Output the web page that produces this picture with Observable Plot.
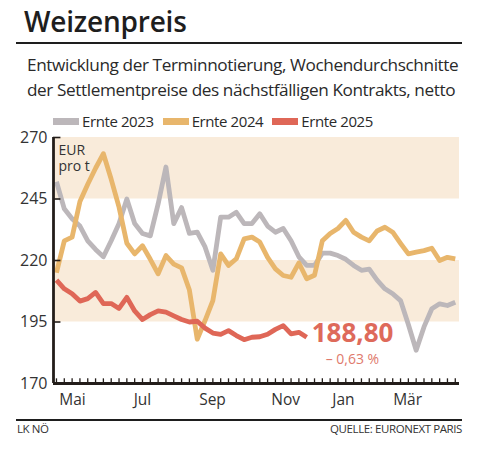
<!DOCTYPE html>
<html>
<head>
<meta charset="utf-8">
<script src="https://cdn.jsdelivr.net/npm/d3@7"></script>
<script src="https://cdn.jsdelivr.net/npm/@observablehq/plot@0.6"></script>
<style>
  html, body { margin: 0; padding: 0; background: #fff; }
  #wrap { position: relative; width: 479px; height: 450px; overflow: hidden; font-family: "Open Sans", sans-serif; color: #1e1e1e; }
  .abs { position: absolute; white-space: nowrap; }
  #title { left: 24px; top: 7px; font-size: 28px; line-height: 1; font-weight: 600; letter-spacing: -0.2px; }
  .rule { position: absolute; left: 16px; width: 446px; height: 2px; background: #1e1e1e; }
  #sub { left: 27px; top: 53px; font-size: 17.2px; line-height: 24.5px; color: #2a2a2a; letter-spacing: -0.4px; }
  #legend { left: 53px; top: 112px; display: flex; align-items: center; font-size: 15px; line-height: 18px; color: #2a2a2a; }
  .item { display: flex; align-items: center; margin-right: 9px; letter-spacing: -0.4px; }
  .sw { width: 26px; height: 7px; margin-right: 3px; }
  #chart { left: 0; top: 130px; }
  .foot { top: 423px; font-size: 11.5px; line-height: 12px; color: #333; letter-spacing: -0.4px; }
</style>
</head>
<body>
<div id="wrap">
  <div id="title" class="abs">Weizenpreis</div>
  <div class="rule" style="top:42px"></div>
  <div id="sub" class="abs"></div>
  <div id="legend" class="abs"></div>
  <div id="chart" class="abs"></div>
  <div class="rule" style="top:419px"></div>
  <div class="abs foot" style="left:17px">LK NÖ</div>
  <div class="abs foot" style="right:17px">QUELLE: EURONEXT PARIS</div>
</div>
<script>
// ---- data ----
const subtitleLines = [
  "Entwicklung der Terminnotierung, Wochendurchschnitte",
  "der Settlementpreise des nächstfälligen Kontrakts, netto"
];
const seriesNames = ["Ernte 2023", "Ernte 2024", "Ernte 2025"];
const seriesColors = ["#bcb7ba", "#e8b66c", "#df6757"];

// weekly averages, EUR/t (week 0 = end of April)
const ernte2023 = [252, 241, 237, 234, 228, 224.5, 221.5, 228, 235, 245,
  235, 231, 230, 243, 258, 235, 241.5, 231, 231.5, 225.5,
  216, 237.6, 237.6, 239.6, 235, 235, 239, 234, 231.5, 233,
  228, 221.5, 218, 218, 223, 223, 222, 220.5, 218, 216,
  216.5, 212, 208.5, 206.5, 203.7, 194, 183.5, 193, 200.4, 202.4,
  201.7, 203];
const ernte2024 = [215, 228, 229.5, 244, 251, 257.5, 263.4, 253, 241.7, 227,
  222.7, 226, 220.5, 214.6, 222, 218.5, 217, 208, 188, 195.6,
  203.7, 222.7, 218, 220.7, 228.8, 229.5, 227.5, 221.3, 216.6, 213.9,
  213.2, 219, 212.6, 214, 228, 231, 233, 236.3, 231.5, 229.5,
  228, 232, 233.5, 231.5, 227, 222.7, 223.4, 224, 225, 220,
  221.3, 220.7];
const ernte2025 = [212, 208.5, 206.5, 203.5, 204.5, 207, 202.5, 202.5, 200.5, 205,
  199.5, 196, 198, 199.5, 199, 197.5, 196, 195, 195.3, 192.5,
  190.5, 190, 191.5, 189.5, 187.8, 188.8, 189, 190, 192, 193.5,
  190.2, 190.8, 188.8];

const lastValueText = "188,80";
const changeText = "– 0,63 %";

const yTicks = [170, 195, 220, 245, 270];
const bandLo = [195, 245];
const bandHi = [220, 270];
const monthLabels = ["Mai", "Jul", "Sep", "Nov", "Jan", "Mär"];
const monthWeeks = [2.05, 11.0, 19.95, 29.3, 36.7, 44.9];
const unitLabel = "EUR\npro t";

// ---- header / legend ----
document.getElementById("sub").innerHTML = subtitleLines.join("<br>");
const legend = document.getElementById("legend");
seriesNames.forEach((n, i) => {
  const it = document.createElement("div");
  it.className = "item";
  it.innerHTML = `<span class="sw" style="background:${seriesColors[i]}"></span><span>${n}</span>`;
  legend.appendChild(it);
});

// ---- chart ----
const toRows = (arr, s) => arr.map((v, i) => ({week: i, value: v, series: s}));
const series = [ernte2023, ernte2024, ernte2025];
const bands = bandLo.map((lo, i) => ({lo, hi: bandHi[i]}));
const xDom = [-0.38, 51.54];
const weekTicks = d3.range(0, 52);
const last = ernte2025.length - 1;

const chart = Plot.plot({
  width: 479,
  height: 285,
  marginTop: 7,
  marginBottom: 32,
  marginLeft: 53,
  marginRight: 20,
  x: {domain: xDom, axis: null},
  y: {domain: [170, 270], axis: null},
  style: {fontFamily: "Open Sans", background: "transparent", overflow: "visible"},
  marks: [
    Plot.rect(bands, {x1: xDom[0], x2: xDom[1], y1: "lo", y2: "hi", fill: "#f9ebda"}),
    ...series.map((arr, i) => Plot.line(toRows(arr, seriesNames[i]), {
      x: "week", y: "value", stroke: seriesColors[i], strokeWidth: 4.8,
      strokeLinejoin: "round", strokeLinecap: "butt"
    })),
    Plot.ruleY(yTicks, {x1: xDom[0], x2: xDom[0] + 0.95, stroke: "#231d1a", strokeWidth: 1.6}),
    Plot.ruleX(weekTicks, {y1: 170, y2: 171.9, stroke: "#231d1a", strokeWidth: 1.3}),
    Plot.ruleX([xDom[0]], {stroke: "#231d1a", strokeWidth: 2.8}),
    Plot.ruleY([170], {stroke: "#231d1a", strokeWidth: 2.8}),
    Plot.text(yTicks, {x: xDom[0], y: d => d, dx: -6, textAnchor: "end", fontSize: 16, fill: "#333"}),
    Plot.text(monthWeeks, {x: d => d, y: 170, dy: 17, text: (d, i) => monthLabels[i], fontSize: 15.5, fill: "#333"}),
    Plot.text([unitLabel], {x: xDom[0], y: 270, dx: 5, dy: 7, textAnchor: "start", lineAnchor: "top", fontSize: 14, lineHeight: 1.1, fill: "#333"}),
    Plot.text([ernte2025[last]], {x: last, y: d => d, text: () => lastValueText, dx: 5, dy: -4, textAnchor: "start", fontSize: 26, fontWeight: "bold", fill: "#de6a5a"}),
    Plot.text([ernte2025[last]], {x: last, y: d => d, text: () => changeText, dx: 19, dy: 22, textAnchor: "start", fontSize: 14, fill: "#e07a6c"})
  ]
});
document.getElementById("chart").appendChild(chart);
</script>
</body>
</html>
